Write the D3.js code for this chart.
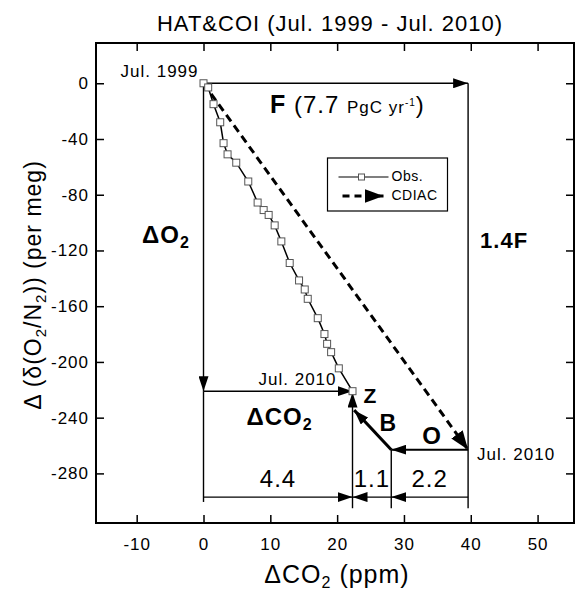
<!DOCTYPE html>
<html>
<head>
<meta charset="utf-8">
<script src="https://cdnjs.cloudflare.com/ajax/libs/d3/7.8.5/d3.min.js"></script>
<style>
  body { margin: 0; background: #fff; }
  svg text { font-family: "Liberation Sans", Arial, sans-serif; fill: #000; }
</style>
</head>
<body>
<div id="chart"></div>
<script>
var w = 580,
    h = 591;

var margin = { top: 43, left: 96 },
    pw = 478,
    ph = 480;

// observed HAT & COI track, Jul. 1999 -> Jul. 2010 (ppm, per meg)
var obsCO2 = [0, 0.7, 1.5, 2.5, 3.0, 3.6, 4.9, 6.7, 8.1, 9.0, 9.75, 10.65, 11.65,
              12.9, 14.3, 15.15, 15.6, 17.1, 18.1, 18.5, 19.1, 20.25, 22.3];
var obsO2 = [0, -3, -15, -28, -43, -51, -57, -70.5, -85.6, -91, -94.5, -102, -113.5,
             -129, -141.5, -148, -154.7, -168.6, -180, -187, -193, -204.6, -221];

// CDIAC fossil fuel vector
var fossilCO2 = [0, 39.6];
var fossilO2 = [0, -263];

// budget split along CO2: origin, atmosphere (Z), land (B), fossil end
var splitCO2 = [0, 22.3, 28.1, 39.6];
var splitLabels = ["4.4", "1.1", "2.2"];
var budgetO2 = -297;
var lowO2 = -305;
var landTip = [22.55, -234.6];

var xTicks = [-10, 0, 10, 20, 30, 40, 50];
var yTicks = [0, -40, -80, -120, -160, -200, -240, -280];

var svg = d3.select('#chart')
    .append('svg')
    .attr('width', w)
    .attr('height', h)

var defs = svg.append('defs');

function head(id, len, wid) {
    defs.append('marker')
        .attr('id', id)
        .attr('viewBox', '0 0 ' + len + ' ' + wid)
        .attr('refX', len)
        .attr('refY', wid / 2)
        .attr('markerWidth', len)
        .attr('markerHeight', wid)
        .attr('markerUnits', 'userSpaceOnUse')
        .attr('orient', 'auto')
        .append('path')
        .attr('d', 'M0,0L' + len + ',' + (wid / 2) + 'L0,' + wid + 'Z')
        .attr('fill', '#000');
}
head('head', 15, 10);
head('headBig', 19, 14);

var x = d3.scaleLinear().domain([-16.09, 55.45]).range([0, pw]);
var y = d3.scaleLinear().domain([-315.6, 28.9]).range([ph, 0]);

var g = svg.append('g')
    .attr('transform', 'translate(' + margin.left + ',' + margin.top + ')');

// plain hyphen for negatives
var fmt = function(d) { return String(d) };

// axes, ticks pointing inward on all four sides
function styleAxis(sel) {
    sel.select('.domain').remove();
    sel.selectAll('.tick line').attr('stroke', '#000').attr('stroke-width', 1.5);
    sel.selectAll('.tick text')
        .attr('font-family', '"Liberation Sans", Arial, sans-serif')
        .attr('font-size', 17)
        .attr('letter-spacing', 1);
}

g.append('g')
    .attr('transform', 'translate(0,' + ph + ')')
    .call(d3.axisBottom(x).tickValues(xTicks).tickSizeInner(-8).tickSizeOuter(0).tickPadding(15).tickFormat(fmt))
    .call(styleAxis);

g.append('g')
    .call(d3.axisTop(x).tickValues(xTicks).tickSizeInner(-8).tickSizeOuter(0).tickFormat(''))
    .call(styleAxis);

g.append('g')
    .call(d3.axisLeft(y).tickValues(yTicks).tickSizeInner(-8).tickSizeOuter(0).tickPadding(7).tickFormat(fmt))
    .call(styleAxis);

g.append('g')
    .attr('transform', 'translate(' + pw + ',0)')
    .call(d3.axisRight(y).tickValues(yTicks).tickSizeInner(-8).tickSizeOuter(0).tickFormat(''))
    .call(styleAxis);

g.append('rect')
    .attr('width', pw)
    .attr('height', ph)
    .attr('fill', 'none')
    .attr('stroke', '#000')
    .attr('stroke-width', 2);

// line helper in data units
function seg(x1, y1, x2, y2, opt) {
    opt = opt || {};
    var l = g.append('line')
        .attr('x1', x(x1)).attr('y1', y(y1))
        .attr('x2', x(x2)).attr('y2', y(y2))
        .attr('stroke', '#000')
        .attr('stroke-width', opt.sw || 1.4);
    if (opt.dash) l.attr('stroke-dasharray', opt.dash);
    if (opt.head) l.attr('marker-end', 'url(#' + opt.head + ')');
    return l;
}

var endCO2 = obsCO2[obsCO2.length - 1],
    endO2 = obsO2[obsO2.length - 1];

// F: fossil CO2 along the top, then down to the fossil end point
seg(0, 0, fossilCO2[1], 0, { head: 'head' });
seg(fossilCO2[1], 0, fossilCO2[1], lowO2);

// dO2 drop down the left side
seg(0, 0, 0, endO2, { head: 'head' });
seg(0, endO2, 0, budgetO2 - 3.5);

// dCO2 across to the observed end
seg(0, endO2, endCO2, endO2, { head: 'head' });

// Z up to observed end, B land uptake, O ocean uptake
seg(splitCO2[1], lowO2, splitCO2[1], endO2 - 1, { head: 'head' });
seg(splitCO2[2], fossilO2[1], landTip[0], landTip[1], { head: 'head', sw: 3 });
seg(fossilCO2[1], fossilO2[1], splitCO2[2], fossilO2[1], { head: 'head', sw: 2 });
seg(splitCO2[2], fossilO2[1], splitCO2[2], lowO2);

// budget dimension arrows
seg(splitCO2[0], budgetO2, splitCO2[1], budgetO2, { head: 'head' });
seg(splitCO2[2], budgetO2, splitCO2[1], budgetO2, { head: 'head' });
seg(splitCO2[3], budgetO2, splitCO2[2], budgetO2, { head: 'head' });

g.selectAll('.split')
    .data(splitLabels).enter()
    .append('text')
    .attr('class', 'split')
    .attr('x', function(d, i) { return (x(splitCO2[i]) + x(splitCO2[i + 1])) / 2 })
    .attr('y', y(budgetO2) - 10)
    .attr('text-anchor', 'middle')
    .attr('font-size', 24)
    .attr('letter-spacing', 1)
    .text(function(d) { return d });

// CDIAC dashed vector
seg(fossilCO2[0], fossilO2[0], fossilCO2[1], fossilO2[1], { head: 'headBig', sw: 3, dash: '8,5' });

// observed track
var line = d3.line()
    .x(function(d) { return x(d[0]) })
    .y(function(d) { return y(d[1]) });

var obs = obsCO2.map(function(v, i) { return [v, obsO2[i]] });

g.append('path')
    .datum(obs)
    .attr('d', line)
    .attr('fill', 'none')
    .attr('stroke', '#000')
    .attr('stroke-width', 1.5);

g.selectAll('.obs')
    .data(obs).enter()
    .append('rect')
    .attr('class', 'obs')
    .attr('x', function(d) { return x(d[0]) - 3.5 })
    .attr('y', function(d) { return y(d[1]) - 3.5 })
    .attr('width', 7)
    .attr('height', 7)
    .attr('fill', '#fff')
    .attr('stroke', '#555')
    .attr('stroke-width', 1);

// labels
function label(px, py, txt, size, bold, anchor) {
    return g.append('text')
        .attr('x', px).attr('y', py)
        .attr('font-size', size)
        .attr('font-weight', bold ? 'bold' : 'normal')
        .attr('letter-spacing', 1)
        .attr('text-anchor', anchor || 'start')
        .text(txt);
}

label(x(0) - 5, y(0) - 6, 'Jul. 1999', 17, false, 'end');
label(x(endCO2) - 16, y(endO2) - 6, 'Jul. 2010', 17, false, 'end');
label(x(fossilCO2[1]) + 9, y(fossilO2[1]) + 10, 'Jul. 2010', 17, false);

var fl = label(x(0) + 66.5, y(0) + 30, 'F', 25, true);
fl.append('tspan').attr('font-weight', 'normal').attr('font-size', 24).text(' (7.7 ');
fl.append('tspan').attr('font-weight', 'normal').attr('font-size', 17).text('PgC yr');
fl.append('tspan').attr('font-weight', 'normal').attr('font-size', 10).attr('dy', -7).text('-1');
fl.append('tspan').attr('font-weight', 'normal').attr('font-size', 24).attr('dy', 7).text(')');

var o2 = label(x(0) - 61.5, y(0) + 160, '\u0394O', 24, true);
o2.append('tspan').attr('font-size', 16).attr('dy', 5).text('2');

label(x(fossilCO2[1]) + 12, y(0) + 165, '1.4F', 22, true);

var co2 = label(x(0) + 43, y(endO2) + 34, '\u0394CO', 24, true);
co2.append('tspan').attr('font-size', 16).attr('dy', 5).text('2');

label(x(splitCO2[1]) + 11, y(endO2) + 12, 'Z', 21, true);
label(x(splitCO2[1]) + 27, y(fossilO2[1]) - 19, 'B', 23, true);
label(x(splitCO2[2]) + 31, y(fossilO2[1]) - 6, 'O', 24, true);

// legend
var lg = g.append('g').attr('transform', 'translate(' + (327.5 - margin.left) + ',' + (158 - margin.top) + ')');
lg.append('rect')
    .attr('width', 120)
    .attr('height', 53)
    .attr('fill', '#fff')
    .attr('stroke', '#000')
    .attr('stroke-width', 1.2);
lg.append('line').attr('x1', 11).attr('x2', 61).attr('y1', 19).attr('y2', 19)
    .attr('stroke', '#000').attr('stroke-width', 1.2);
lg.append('rect').attr('x', 31).attr('y', 16).attr('width', 6).attr('height', 6)
    .attr('fill', '#fff').attr('stroke', '#555');
lg.append('line').attr('x1', 15).attr('x2', 56).attr('y1', 38).attr('y2', 38)
    .attr('stroke', '#000').attr('stroke-width', 3).attr('stroke-dasharray', '7,5')
    .attr('marker-end', 'url(#headBig)');
lg.append('text').attr('x', 64).attr('y', 23).attr('font-size', 14).attr('letter-spacing', 0.5).text('Obs.');
lg.append('text').attr('x', 64).attr('y', 42).attr('font-size', 14).attr('letter-spacing', 0.5).text('CDIAC');

// title and axis titles
svg.append('text')
    .attr('x', 330)
    .attr('y', 31)
    .attr('text-anchor', 'middle')
    .attr('font-size', 22)
    .attr('letter-spacing', 1)
    .text('HAT&COI (Jul. 1999 - Jul. 2010)');

var xt = svg.append('text')
    .attr('x', 337)
    .attr('y', 583)
    .attr('text-anchor', 'middle')
    .attr('font-size', 25)
    .attr('letter-spacing', 1)
    .text('\u0394CO');
xt.append('tspan').attr('font-size', 16).attr('dy', 5).text('2');
xt.append('tspan').attr('dy', -5).text(' (ppm)');

var yt = svg.append('text')
    .attr('transform', 'translate(41,285) rotate(-90)')
    .attr('text-anchor', 'middle')
    .attr('font-size', 23)
    .attr('letter-spacing', 1)
    .text('\u0394 (\u03b4(O');
yt.append('tspan').attr('font-size', 15).attr('dy', 5).text('2');
yt.append('tspan').attr('dy', -5).text('/N');
yt.append('tspan').attr('font-size', 15).attr('dy', 5).text('2');
yt.append('tspan').attr('dy', -5).text(')) (per meg)');
</script>
</body>
</html>
